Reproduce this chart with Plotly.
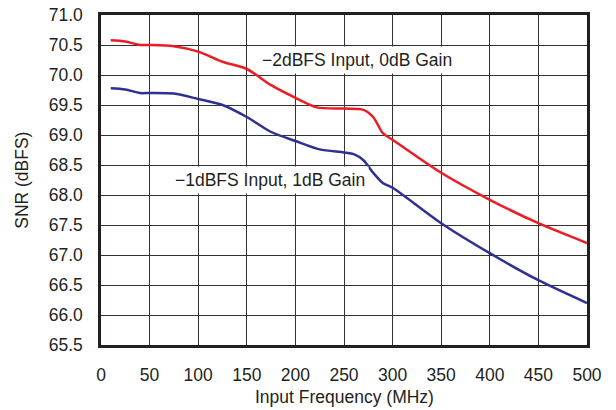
import plotly.graph_objects as go

# Input frequency (MHz)
freq_red = [10, 25, 40, 50, 75, 100, 125, 150, 175, 200, 222, 250, 270, 280, 290, 300, 350, 400, 450, 500]
snr_red = [70.58, 70.56, 70.5, 70.5, 70.48, 70.39, 70.22, 70.1, 69.83, 69.62, 69.46, 69.44, 69.42, 69.3, 69.03, 68.92, 68.37, 67.92, 67.53, 67.2]

freq_blue = [10, 25, 40, 50, 75, 100, 125, 150, 175, 200, 225, 250, 260, 270, 280, 290, 300, 350, 400, 450, 500]
snr_blue = [69.78, 69.76, 69.7, 69.7, 69.69, 69.6, 69.5, 69.3, 69.05, 68.9, 68.76, 68.71, 68.68, 68.58, 68.37, 68.2, 68.12, 67.53, 67.03, 66.58, 66.2]

x_ticks = list(range(0, 501, 50))
y_ticks = [65.5 + 0.5 * i for i in range(12)]

font = dict(family="Liberation Sans, Arial, sans-serif", size=17.5, color="#231f20")

fig = go.Figure()
fig.add_trace(go.Scatter(x=freq_red, y=snr_red, mode="lines",
                         line=dict(color="#ed1c24", width=2.5, shape="spline", smoothing=0.8),
                         showlegend=False, hoverinfo="skip"))
fig.add_trace(go.Scatter(x=freq_blue, y=snr_blue, mode="lines",
                         line=dict(color="#2e3192", width=2.5, shape="spline", smoothing=0.8),
                         showlegend=False, hoverinfo="skip"))

# etiquetas de curvas (fondo blanco tapa la rejilla)
fig.add_annotation(x=263, y=70.25, text="\u22122dBFS Input, 0dB Gain", showarrow=False,
                   font=font, bgcolor="white", borderpad=3)
fig.add_annotation(x=174, y=68.25, text="\u22121dBFS Input, 1dB Gain", showarrow=False,
                   font=font, bgcolor="white", borderpad=3)

# titulos de ejes
fig.add_annotation(xref="paper", yref="paper", x=0.5, y=-0.159, yanchor="middle",
                   text="Input Frequency (MHz)", showarrow=False, font=font)
fig.add_annotation(xref="paper", yref="paper", x=-0.163, y=0.5, xanchor="center",
                   text="SNR (dBFS)", textangle=-90, showarrow=False, font=font)

fig.update_layout(
    width=616, height=410,
    margin=dict(l=101, r=29, t=15, b=65),
    plot_bgcolor="white", paper_bgcolor="white",
    font=font,
)
fig.update_xaxes(range=[0, 500], tickvals=x_ticks, showgrid=True, gridcolor="#333333", gridwidth=1,
                 zeroline=False, showline=True, linecolor="#231f20", linewidth=2.5, mirror=True,
                 ticks="", ticklabelstandoff=12, automargin=False)
fig.update_yaxes(range=[65.5, 71.0], tickvals=y_ticks, tickformat=".1f", showgrid=True,
                 gridcolor="#333333", gridwidth=1, zeroline=False, showline=True,
                 linecolor="#231f20", linewidth=2.5, mirror=True, ticks="", ticklabelstandoff=12,
                 automargin=False)

fig.write_html("out.html", config={"displayModeBar": False},
               post_script="document.body.style.margin='0';")
